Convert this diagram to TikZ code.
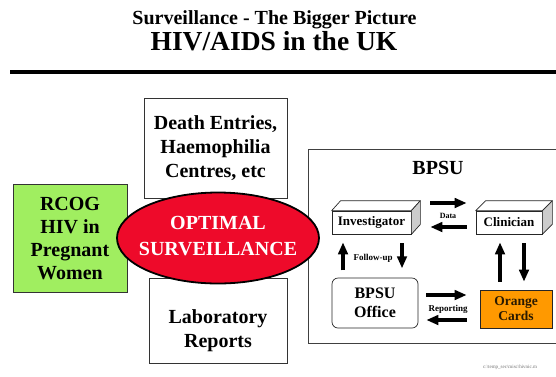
\documentclass[tikz,border=0pt]{standalone}
\usepackage{fontspec}
\setmainfont{Liberation Serif}
\usetikzlibrary{arrows.meta,calc,shapes.geometric}
\definecolor{rcoggreen}{HTML}{A0EE60}
\definecolor{optred}{HTML}{EE0A2A}
\definecolor{cardorange}{HTML}{FF9900}
\definecolor{cardtext}{HTML}{2A1A00}
\begin{document}
\begin{tikzpicture}[x=1pt,y=-1pt,
  bigfont/.style={font=\bfseries\fontsize{20}{24}\selectfont},
  box/.style={draw=black!80, line width=0.8pt, fill=white, align=center, inner sep=0pt, bigfont},
  cubefront/.style={draw=black!85, line width=0.7pt, fill=white, inner sep=0pt, font=\bfseries\fontsize{13}{15}\selectfont},
  cubeline/.style={draw=black!85, line width=0.7pt, line join=round},
  bigarrow/.style={line width=3.6pt, -{Triangle[length=12pt,width=9.5pt]}},
  smalllab/.style={font=\bfseries\fontsize{9}{10}\selectfont, inner sep=0pt}]
\useasboundingbox (0,0) rectangle (556,376);
\fill[white] (0,0) rectangle (556,376);

% title
\node[anchor=base, inner sep=0pt, text depth=0pt, font=\bfseries\fontsize{20}{24}\selectfont] (t1) at (274.5,24.5) {Surveillance - The Bigger Picture};
\node[anchor=base, inner sep=0pt, font=\bfseries\fontsize{27.5}{32}\selectfont] (t2) at (274,50) {HIV/AIDS in the UK};
\draw[line width=3.5pt] (10,72) -- (560,72);

% BPSU frame
\node[draw=black!75, line width=0.8pt, fill=white, minimum width=252pt, minimum height=194pt, inner sep=0pt] (bpsu) at (434,246) {};
\node[bigfont] (bpsut) at (438,168) {BPSU};

% left side boxes
\node[box, minimum width=143pt, minimum height=100pt] (death) at (215.5,148) {Death Entries,\\Haemophilia\\Centres, etc};
\node[box, minimum width=138pt, minimum height=85pt] (lab) at (218,320.5) {};
\node[align=center, bigfont, inner sep=0pt] (labt) at (218,331) {Laboratory\\Reports};
\node[box, fill=rcoggreen, minimum width=114pt, minimum height=108pt, font=\bfseries\fontsize{20}{23}\selectfont] (rcog) at (70,238.5) {RCOG\\HIV in\\Pregnant\\Women};

% ellipse
\node[ellipse, draw=black, line width=1.8pt, fill=optred, minimum width=202pt, minimum height=91pt, inner sep=0pt] (opt) at (218,238) {};
\node[align=center, text=white, inner sep=0pt, font=\bfseries\fontsize{20}{26}\selectfont] (optt) at ($(opt.center)+(0,-2)$) {OPTIMAL\\SURVEILLANCE};

% investigator cube
\node[cubefront, minimum width=79pt, minimum height=23pt] (inv) at (371.5,222.5) {Investigator};
\draw[cubeline, fill=white] (inv.north west) -- ++(9,-10) -- ($(inv.north east)+(9,-10)$) -- (inv.north east) -- cycle;
\draw[cubeline, fill=black!20] (inv.north east) -- ++(9,-10) -- ($(inv.south east)+(9,-10)$) -- (inv.south east) -- cycle;

% clinician cube
\node[cubefront, minimum width=66pt, minimum height=23pt] (clin) at (509,222.5) {Clinician};
\draw[cubeline, fill=white] (clin.north west) -- ++(10,-10) -- ($(clin.north east)+(10,-10)$) -- (clin.north east) -- cycle;
\draw[cubeline, fill=black!20] (clin.north east) -- ++(10,-10) -- ($(clin.south east)+(10,-10)$) -- (clin.south east) -- cycle;

% office and cards
\node[draw=black!85, line width=0.7pt, rounded corners=6pt, minimum width=86pt, minimum height=50pt, inner sep=0pt, align=center, font=\bfseries\fontsize{16}{19}\selectfont] (office) at (375,303) {BPSU\\Office};
\node[draw=black!85, line width=0.7pt, fill=cardorange, minimum width=72pt, minimum height=38pt, inner sep=0pt, align=center, text=cardtext, font=\bfseries\fontsize{13.5}{15}\selectfont] (cards) at (516,309) {Orange\\Cards};

% Data arrows
\draw[bigarrow] ($(inv.east)+(19,-19.5)$) -- ($(clin.west)+(-9,-19.5)$);
\draw[bigarrow] ($(clin.west)+(-9,4.5)$) -- ($(inv.east)+(19,4.5)$);
\node[smalllab, font=\bfseries\fontsize{8}{9}\selectfont] (datal) at (448,216) {Data};

% Follow-up arrows
\draw[bigarrow] ($(inv.south)+(-28.5,36)$) -- ($(inv.south)+(-28.5,8)$);
\draw[bigarrow] ($(inv.south)+(30.5,9)$) -- ($(inv.south)+(30.5,34)$);
\node[smalllab] (followl) at (373,258) {Follow-up};

% Clinician <-> cards
\draw[bigarrow] ($(cards.north)+(-16,-8)$) -- ($(clin.south)+(-9,8)$);
\draw[bigarrow] ($(clin.south)+(15,9)$) -- ($(cards.north)+(8,-8)$);

% Reporting arrows
\draw[bigarrow] ($(office.east)+(8,-8)$) -- ($(cards.west)+(-13,-14)$);
\draw[bigarrow] ($(cards.west)+(-13,11)$) -- ($(office.east)+(8,17)$);
\node[smalllab] (reportl) at (448,309) {Reporting};

% footer
\node[anchor=west, inner sep=0pt, text=black!55, font=\fontsize{5}{6}\selectfont] (foot) at (483,367.5) {c:\textbackslash temp\_sec\textbackslash misc\textbackslash hivnic.m};
\end{tikzpicture}
\end{document}
